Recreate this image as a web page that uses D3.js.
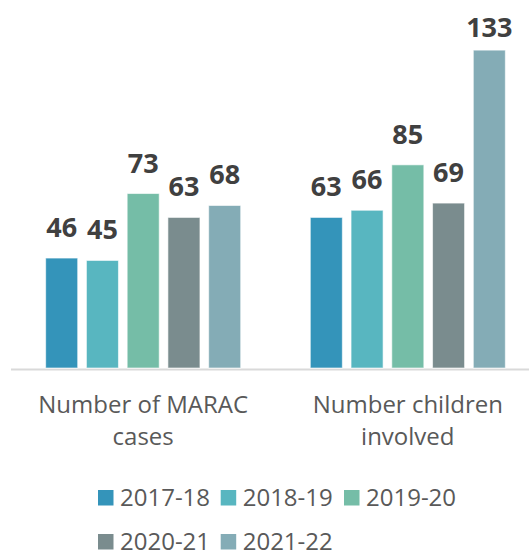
<!DOCTYPE html>
<html><head><meta charset="utf-8">
<script src="https://cdn.jsdelivr.net/npm/d3@7"></script>
<style>body{margin:0;background:#fff}svg{display:block}</style>
</head><body>
<svg id="c" width="529" height="556"></svg>
<script>
const categories = [["Number of MARAC", "cases"], ["Number children", "involved"]];
const seriesNames = ["2017-18", "2018-19", "2019-20", "2020-21", "2021-22"];
const marac = [46, 45, 73, 63, 68];
const children = [63, 66, 85, 69, 133];
const colors = ["#3494BA", "#58B6C0", "#75BDA7", "#7A8C8E", "#84ACB6"];
const values = [marac, children];

const svg = d3.select("#c");
const font = "'Open Sans', sans-serif";
const base = 368;
const y = d3.scaleLinear().domain([0, 140]).range([base, 33.4]);
const x0 = d3.scaleBand().domain([0, 1]).range([11, 540]).paddingInner(0.263).paddingOuter(0.131);
const x1 = d3.scaleBand().domain(seriesNames).range([0, x0.bandwidth()]).paddingInner(0.214);

// axis line
svg.append("line").attr("x1", 11).attr("x2", 529).attr("y1", base + 1.5).attr("y2", base + 1.5)
  .attr("stroke", "#d9d9d9").attr("stroke-width", 2);

const g = svg.selectAll("g.grp").data(values).join("g").attr("class", "grp")
  .attr("transform", (d, i) => `translate(${x0(i)},0)`);

g.selectAll("rect").data(d => d.map((v, j) => ({v, j}))).join("rect")
  .attr("x", d => x1(seriesNames[d.j]))
  .attr("width", x1.bandwidth())
  .attr("y", d => y(d.v))
  .attr("height", d => base - y(d.v))
  .attr("fill", d => colors[d.j])
  .attr("stroke", "#ffffff").attr("stroke-opacity", 0.6).attr("stroke-width", 1);

g.selectAll("text.val").data(d => d.map((v, j) => ({v, j}))).join("text").attr("class", "val")
  .attr("x", d => x1(seriesNames[d.j]) + x1.bandwidth() / 2)
  .attr("y", d => Math.max(y(d.v) - 21, y(140) + 4))
  .attr("text-anchor", "middle")
  .attr("font-family", font).attr("font-weight", 700).attr("font-size", 27)
  .attr("fill", "#404040")
  .text(d => d.v);

// category labels
categories.forEach((lines, i) => {
  const cx = x0(i) + x0.bandwidth() / 2;
  const t = svg.append("text").attr("text-anchor", "middle")
    .attr("font-family", font).attr("font-size", 24).attr("fill", "#595959");
  lines.forEach((l, k) => t.append("tspan").attr("x", cx).attr("y", 413 + k * 32).text(l));
});

// legend
const legendPos = [[98, 506], [220.7, 506], [344, 506], [98, 550], [220.7, 550]];
seriesNames.forEach((s, i) => {
  const [lx, ly] = legendPos[i];
  svg.append("rect").attr("x", lx).attr("y", ly - 16).attr("width", 15.5).attr("height", 15.5).attr("fill", colors[i]);
  svg.append("text").attr("x", lx + 22).attr("y", ly)
    .attr("font-family", font).attr("font-size", 24).attr("fill", "#595959").text(s);
});
</script>
</body></html>
